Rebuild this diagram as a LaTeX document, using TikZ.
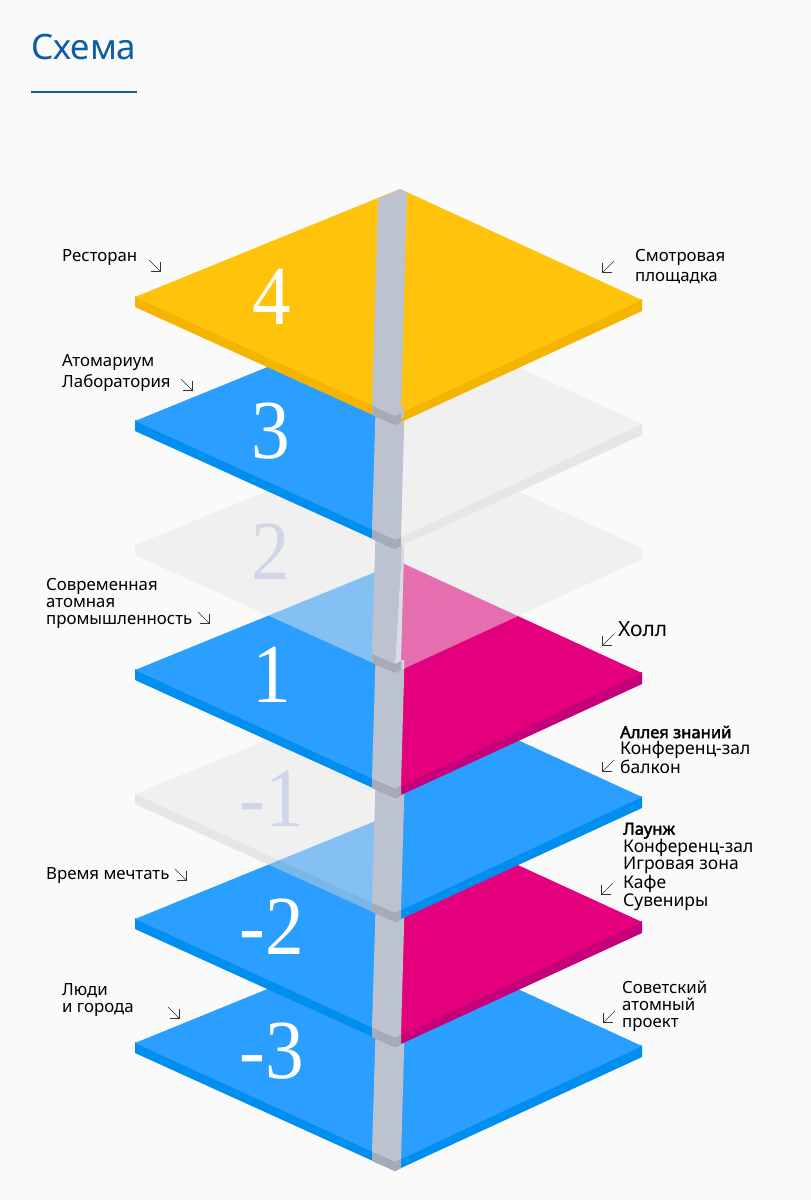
\documentclass[tikz,border=0pt]{standalone}
\usepackage{fontspec}
\setmainfont{Noto Sans}[AutoFakeBold=2.2]
\newfontfamily\numfont{Liberation Serif}[FakeStretch=0.92]
\usetikzlibrary{arrows.meta}
\definecolor{bgc}{HTML}{FAFAFA}
\definecolor{yel}{HTML}{FFC30B}
\definecolor{yelS}{HTML}{F5B400}
\definecolor{blu}{HTML}{2B9FFF}
\definecolor{bluS}{HTML}{008EEF}
\definecolor{mag}{HTML}{E4007C}
\definecolor{magS}{HTML}{C5007A}
\definecolor{colm}{HTML}{BCC2CF}
\definecolor{blk}{HTML}{A7ABB8}
\definecolor{strip}{HTML}{D9DCE2}
\definecolor{gho}{HTML}{E6E6E6}
\definecolor{ghoS}{HTML}{D2D2D2}
\definecolor{solG}{HTML}{F0F0F0}
\definecolor{solGS}{HTML}{E6E6E6}
\definecolor{numG}{HTML}{D0D6E8}
\definecolor{titleC}{HTML}{0F5BA6}
\definecolor{arrC}{HTML}{333333}
\tikzset{
  x=1pt,y=-1pt,
  lab/.style={anchor=west,align=left,inner sep=0pt,font=\fontsize{16.8}{16.8}\selectfont,text=black},
  labw/.style={lab,font=\fontsize{16.8}{20.5}\selectfont},
  labb/.style={lab,font=\fontsize{17.5}{16.7}\selectfont},
  labc/.style={lab,font=\fontsize{17.5}{16.2}\selectfont},
  num/.style={inner sep=0pt,text=white,font=\numfont\fontsize{84}{84}\selectfont},
  numg/.style={num,text=numG},
  ghostf/.style={fill=gho,fill opacity=.48},
  ghosts/.style={fill=ghoS,fill opacity=.48},
  arr/.style={draw=arrC,line width=.6pt,-{Straight Barb[length=7pt,width=14pt,line width=.6pt]}},
}
\newcommand{\lup}{1}
\newcommand{\rup}{1}
% #1 y0, #2 left top style, #3 left side style, #4 right top style, #5 right side style
\newcommand{\slab}[5]{%
  \path[#3] (135,#1-\lup) -- (395,#1+119-\lup) -- (395,#1+128) -- (135,#1+10) -- cycle;
  \path[#5] (395,#1+119-\rup) -- (642,#1+3-\rup) -- (642,#1+14) -- (401,#1+125) -- (395,#1+128) -- cycle;
  \path[#2] (135,#1) -- (400,#1-108) -- (395,#1+119) -- cycle;
  \path[#4] (400,#1-108) -- (642,#1+3) -- (395,#1+119) -- cycle;
}
% #1 y0 of this floor
\newcommand{\shaft}[1]{%
  \fill[colm] (375.5,#1-10) -- (404.5,#1-10) -- (401,#1+116) -- (395,#1+119) -- (372,#1+109) -- cycle;
}
\newcommand{\cblock}[1]{%
  \fill[blk] (372,#1+109) -- (395,#1+119) -- (401,#1+116) -- (401,#1+125) -- (395,#1+128) -- (372,#1+118) -- cycle;
}
\begin{document}
\begin{tikzpicture}
\useasboundingbox (0,0) rectangle (811,1200);
\fill[bgc] (0,0) rectangle (811,1200);

% title
\node[anchor=west,inner sep=0pt,text=titleC,font=\fontsize{35}{35}\selectfont] (title) at (31,47) {Схема};
\coordinate (ruleA) at (31,92);
\coordinate (ruleB) at (137,92);
\draw[titleC,line width=2pt] (ruleA) -- (ruleB);

% floor -3
\slab{1043}{fill=blu}{fill=bluS}{fill=blu}{fill=bluS}
\shaft{1043}\cblock{1043}
\node[num] (nm3) at (272,1051) {-3};
% floor -2
\slab{919}{fill=blu}{fill=bluS}{fill=mag}{fill=magS}
\shaft{919}\cblock{919}
\node[num] (nm2) at (272,927) {-2};
% floor -1
\renewcommand{\lup}{0}
\slab{794}{ghostf}{ghosts}{fill=blu}{fill=bluS}
\shaft{794}\cblock{794}
\node[numg] (nm1) at (272,799) {-1};
\renewcommand{\lup}{1}
% floor 1
\slab{670}{fill=blu}{fill=bluS}{fill=mag}{fill=magS}
\shaft{670}\cblock{670}
\node[num] (n1) at (272,675) {1};
% floor 2
\renewcommand{\lup}{0}\renewcommand{\rup}{0}
\slab{545}{ghostf}{ghostf}{ghostf}{ghostf}
\fill[strip] (404.5,535) -- (401,661) -- (395,664) -- (402.5,535) -- cycle;
\fill[colm] (375.5,535) -- (402.5,535) -- (395,664) -- (372,654) -- cycle;
\cblock{545}
\node[numg] (n2) at (271,552) {2};
\renewcommand{\lup}{1}\renewcommand{\rup}{1}
% floor 3
\slab{421}{fill=blu}{fill=bluS}{fill=solG}{fill=solGS}
\shaft{421}\cblock{421}
\node[num] (n3) at (271,431) {3};
% floor 4
\slab{297}{fill=yel}{fill=yelS}{fill=yel}{fill=yelS}
\fill[colm] (378,199) -- (400,189) -- (407,192) -- (401,413) -- (395,416) -- (372,406) -- cycle;
\fill[colm] (401,407) -- (404,407) -- (404,417) -- (401,419) -- cycle;
\cblock{297}
\node[num] (n4) at (272,297) {4};

% labels
\node[lab] (l1) at (62,258) {Ресторан};
\node[labw] (l2) at (635,266.5) {Смотровая\\площадка};
\node[labw] (l3) at (62,373) {Атомариум\\Лаборатория};
\node[lab] (l4) at (46,603.5) {Современная\\атомная\\промышленность};
\node[lab,font=\fontsize{21}{22}\selectfont] (l5) at (618,629) {Холл};
\node[labc] (l6) at (620,749.5) {\textbf{\fontsize{16.6}{16.2}\selectfont Аллея знаний}\\Конференц-зал\\балкон};
\node[labb] (l7) at (623,866.5) {\textbf{\fontsize{16.6}{16.7}\selectfont Лаунж}\\Конференц-зал\\Игровая зона\\Кафе\\Сувениры};
\node[lab] (l8) at (46,876) {Время мечтать};
\node[lab] (l9) at (62,1000) {Люди\\и города};
\node[lab] (l10) at (622,1006.5) {Советский\\атомный\\проект};

% pointers
\foreach \nm/\xa/\ya/\xb/\yb in {
  p1/149/260/161/272, p2/614/261/602/273, p3/181/379/193/391, p4/198/612/210/624,
  p5/614/634/602/646, p6/614/760/602/772, p7/613/883/601/895, p8/175/869/187/881,
  p9/168/1007/180/1019, p10/615/1011/603/1023}{
  \coordinate (\nm a) at (\xa,\ya);
  \coordinate (\nm b) at (\xb,\yb);
  \draw[arr] (\nm a) -- (\nm b);
}
\end{tikzpicture}
\end{document}
